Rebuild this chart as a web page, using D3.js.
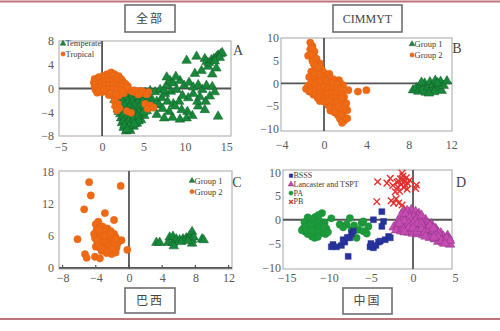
<!DOCTYPE html>
<html><head><meta charset="utf-8">
<script src="https://cdn.jsdelivr.net/npm/d3@7"></script>
<style>
html,body{margin:0;padding:0;background:#fff;}
svg{display:block;}
</style></head><body>
<svg id="chart" width="500" height="331"></svg>
<script>
// ---------- Panel A: 全部 ----------
const panelATemperate = [
[2.0,-1.0],[2.7,-0.9],[3.3,-1.1],[3.9,-0.8],[4.5,-1.0],[5.2,-0.7],[5.8,-0.4],[6.4,-0.6],[7.0,-0.2],
[1.5,-1.9],[2.1,-1.7],[2.8,-2.0],[3.4,-1.8],[4.0,-2.1],[4.6,-1.7],[5.3,-2.0],[6.0,-1.8],[6.6,-2.2],
[1.7,-2.7],[2.3,-2.6],[2.9,-2.9],[3.5,-2.5],[4.1,-2.8],[4.7,-2.6],[5.3,-2.9],[6.1,-3.3],
[1.9,-3.5],[2.5,-3.3],[3.1,-3.6],[3.7,-3.3],[4.3,-3.6],[4.9,-3.4],[5.4,-3.8],
[2.2,-4.3],[2.8,-4.1],[3.4,-4.4],[4.0,-4.1],[4.6,-4.4],[5.1,-4.6],
[2.3,-5.0],[2.9,-5.2],[3.5,-4.9],[4.1,-5.1],[4.7,-5.3],
[2.4,-5.8],[3.0,-6.0],[3.6,-5.7],[4.2,-5.9],
[2.6,-6.6],[3.2,-6.7],[3.8,-6.4],[2.9,-7.2],[3.4,-7.1],
[2.4,-1.3],[3.0,-1.4],[3.6,-1.5],[4.2,-1.4],[4.8,-1.3],[5.5,-1.3],[1.9,-2.3],[2.5,-2.2],[3.1,-2.3],[3.7,-2.2],
[4.3,-2.4],[4.9,-2.2],[5.6,-2.5],[2.1,-3.0],[2.7,-2.9],[3.3,-3.1],[3.9,-2.9],[4.5,-3.1],[5.0,-3.0],[2.0,-3.9],
[2.6,-3.8],[3.2,-4.0],[3.8,-3.8],[4.4,-4.0],[5.0,-4.0],[2.5,-4.6],[3.1,-4.7],[3.7,-4.6],[4.3,-4.7],[2.6,-5.4],
[3.2,-5.5],[3.8,-5.3],[4.4,-5.5],[2.7,-6.2],[3.3,-6.3],[3.9,-6.0],[3.0,-6.9],
[7.2,-1.6],[7.9,-2.2],[8.6,-2.6],[9.3,-2.2],[7.6,-0.9],[6.9,-2.8],
[6.6,-4.4],[7.5,-5.0],[8.5,-4.9],[9.4,-5.2],[10.2,-5.0],[10.9,-4.6],[10.3,-3.9],[9.6,-3.6],[8.1,-3.9],[7.3,-3.4],[8.8,-3.0],
[11.6,-3.0],[12.4,-3.6],[11.5,-2.2],[12.5,-2.2],[13.0,-1.3],[11.8,-1.4],[11.0,-0.9],[10.4,-1.6],[9.7,-1.2],
[8.3,-0.5],[9.0,-0.2],[7.5,-0.3],[7.8,0.6],[8.2,1.3],[8.6,0.9],[9.4,1.3],[9.9,0.5],[10.5,1.0],[11.0,0.2],[11.6,0.6],[12.1,-0.2],[12.6,0.5],[13.3,0.3],[13.6,-0.6],
[7.8,1.9],[8.9,2.0],[11.2,2.5],[12.0,3.0],[12.8,3.7],[13.3,2.4],[13.8,3.4],[10.2,4.7],[11.4,5.4],[12.4,5.0],
[12.6,4.5],[12.9,4.3],[13.2,4.8],[13.5,5.0],[13.8,5.3],[14.0,5.6],[14.3,5.8],[14.5,6.0],[14.2,5.2],[13.6,4.6],[14.0,-4.7]
];
const panelATropical = [
[-0.9,1.6],[-0.4,1.9],[0.1,2.1],[0.6,2.4],[1.1,2.7],[1.5,2.4],[2.0,2.1],
[-1.0,1.0],[-0.5,1.2],[0.0,1.4],[0.5,1.6],[1.0,1.8],[1.5,1.7],[2.0,1.5],[2.5,1.2],
[-0.9,0.4],[-0.4,0.6],[0.1,0.8],[0.6,1.0],[1.1,1.1],[1.6,0.9],[2.1,0.8],[2.6,0.6],[3.1,0.4],
[-0.8,-0.2],[-0.3,0.0],[0.2,0.2],[0.7,0.3],[1.2,0.4],[1.7,0.2],[2.2,0.1],[2.7,-0.1],[3.2,-0.2],
[-0.6,-0.7],[0.0,-0.6],[0.6,-0.5],[1.1,-0.4],[1.6,-0.7],[2.1,-0.6],[2.6,-0.8],
[0.8,-1.1],[1.4,-1.3],[2.0,-1.2],
[-0.7,1.3],[-0.2,1.6],[0.3,1.8],[0.8,2.0],[1.3,2.2],[1.8,1.9],[2.3,1.6],[-0.7,0.7],[-0.2,0.9],[0.3,1.1],
[0.8,1.3],[1.3,1.4],[1.8,1.2],[2.3,1.0],[2.8,0.8],[-0.6,0.1],[-0.1,0.3],[0.4,0.5],[0.9,0.6],[1.4,0.7],
[1.9,0.5],[2.4,0.3],[2.9,0.2],[-0.4,-0.4],[0.3,-0.2],[0.9,-0.1],[1.4,-0.1],[1.9,-0.3],[2.4,-0.4],[1.1,-0.8],[1.7,-1.0],
[3.6,-0.5],[4.1,-0.7],[4.6,-0.4],[5.1,-0.8],[5.6,-0.6],[4.4,-1.0],[3.9,-0.3],[4.9,-0.5],[5.4,-1.0],
[1.5,-2.1],[1.9,-2.6],[1.6,-3.0],[2.1,-3.3],[1.8,-3.7],
[3.0,-3.8],[3.5,-4.1],
[5.2,-2.6],[5.8,-2.9],[5.5,-3.4],[6.2,-3.2]
];
const ticksAX = [-5, 0, 5, 10, 15];
const ticksAY = [-8, -4, 0, 4, 8];

// ---------- Panel B: CIMMYT ----------
const panelBGroup1 = [
[8.4,-1.5],[8.7,-1.0],[8.9,-1.8],[9.1,-0.4],[9.3,-1.2],[9.5,0.0],[9.6,-2.0],[9.8,-0.8],[10.0,0.3],[10.1,-1.5],
[10.3,-0.3],[10.5,0.6],[10.6,-1.1],[10.8,-0.2],[11.0,0.4],[11.1,-1.6],[10.4,-1.9],[9.9,-2.2],[11.3,-0.5],[11.6,0.5],[9.2,0.2],[10.7,0.1]
];
const panelBGroup2 = [
[-1.3,9.0],[-1.1,8.2],[-1.3,7.5],[-0.9,7.0],[-1.5,6.1],[-1.0,6.0],[-0.7,5.4],[-1.1,5.0],[-0.6,4.5],[-0.4,4.4],[-0.9,4.0],[-0.4,3.8],
[-0.7,3.2],[-0.2,3.0],[-1.2,2.6],[-0.5,2.6],[-0.4,2.2],[0.0,2.3],[0.5,2.1],[0.3,1.8],[-0.1,1.5],[-1.4,1.4],[0.6,1.2],[0.9,0.9],[1.4,0.7],
[-1.7,-1.2],[-1.5,-0.5],[-1.2,0.2],[-0.8,0.8],[-0.4,1.0],[0.0,0.9],[0.5,0.6],[1.0,0.4],[1.5,0.2],[1.8,-0.4],
[-1.4,-1.8],[-1.0,-1.2],[-0.6,-0.6],[-0.2,-0.1],[0.2,-0.3],[0.6,-0.8],[1.0,-0.4],[1.4,-0.9],
[-1.0,-2.5],[-0.6,-1.9],[-0.2,-1.4],[0.2,-1.8],[0.6,-1.5],[1.0,-1.9],[1.4,-1.6],[1.7,-2.2],
[-0.6,-3.2],[-0.2,-2.6],[0.2,-2.9],[0.6,-2.5],[1.0,-3.0],[1.4,-2.7],[1.9,-3.0],
[-0.4,-3.9],[0.2,-4.2],[0.6,-3.6],[1.0,-4.0],[1.4,-3.6],[1.8,-3.9],
[0.4,-4.8],[0.8,-5.2],[1.2,-4.8],[1.6,-5.4],[0.6,-6.0],[1.1,-5.8],[1.4,-6.3],[1.8,-6.6],[1.3,-7.0],[1.7,-7.3],[1.5,-7.8],[1.9,-8.2],[1.7,-8.7],
[-1.2,-0.9],[-0.8,-0.2],[-0.4,0.4],[0.2,0.5],[0.8,0.1],[1.2,-0.2],[-1.2,-1.6],[-0.8,-1.5],[-0.4,-1.0],[0.0,-0.8],
[0.4,-1.1],[0.8,-1.3],[1.2,-1.1],[1.6,-1.3],[-0.8,-2.4],[-0.4,-2.1],[0.0,-2.3],[0.4,-2.2],[0.8,-2.1],[1.2,-2.3],
[1.6,-2.6],[-0.4,-3.0],[0.0,-3.4],[0.4,-3.3],[0.8,-3.2],[1.2,-3.5],[1.6,-3.2],[0.0,-4.0],[0.4,-3.9],[0.8,-4.4],
[1.2,-4.2],[1.6,-4.5],[0.6,-5.3],[1.0,-5.5],[1.4,-5.1],[1.8,-5.8],[1.0,-6.4],[1.6,-6.9],[-0.9,1.6],[-0.5,1.9],
[-0.9,2.2],[-0.6,3.5],[-1.0,4.5],[-0.8,5.5],[-1.2,6.5],[-1.1,7.8],
[2.2,-5.9],[2.0,-5.0],[2.3,-1.5],[3.2,-1.8],[4.0,-1.5],[2.1,-4.4],[2.2,-7.7]
];
const ticksBX = [-4, 0, 4, 8, 12];
const ticksBY = [-10, -5, 0, 5, 10];

// ---------- Panel C: 巴西 ----------
const panelCGroup1 = [
[3.3,4.75],[3.7,4.75],[4.7,4.75],[5.3,4.75],[4.9,5.75],[5.3,5.9],[5.7,5.4],[5.4,4.1],[6.1,5.25],[6.5,5.4],
[6.9,5.6],[7.3,6.0],[7.6,6.8],[7.6,5.25],[7.8,5.75],[7.6,4.6],[8.8,5.4],[9.0,5.25],[6.3,4.9],[7.1,5.1]
];
const panelCGroup2 = [
[-4.8,16.1],[-1.0,15.4],[-4.6,13.6],[-5.4,11.0],[-2.9,10.3],[-1.8,9.0],[-3.7,8.7],[-6.2,5.4],[-0.2,3.4],
[-5.3,2.6],[-5.1,1.9],[-4.1,2.1],[-3.5,1.8],[-4.0,4.0],[-0.9,5.2],
[-4.0,8.2],[-3.5,7.6],[-3.9,7.2],[-3.2,7.8],[-2.6,7.4],[-2.2,6.9],[-1.8,6.4],[-4.2,6.4],[-3.6,6.6],[-3.0,6.8],[-2.4,6.2],
[-1.6,5.8],[-1.2,5.0],[-4.1,5.6],[-3.5,5.8],[-2.9,5.6],[-2.3,5.4],[-1.7,5.0],[-1.4,4.5],[-3.8,4.8],[-3.2,4.9],[-2.6,4.6],
[-2.0,4.2],[-1.5,3.8],[-3.6,3.9],[-3.0,4.0],[-2.4,3.6],[-1.9,3.2],[-3.3,3.2],[-2.7,2.8],[-2.1,2.6],[-1.6,2.9],[-2.8,6.1],
[-2.0,5.8],[-3.4,5.2],[-2.5,5.0],[-2.8,4.2],
[-3.4,6.2],[-2.6,5.6],[-2.2,4.8],[-3.0,5.2],[-3.6,4.4],[-2.4,4.2],[-1.8,4.6],[-3.2,3.6],[-2.6,3.2],[-2.0,3.6],
[-1.6,5.4],[-3.8,5.2],[-2.2,6.4],[-3.0,6.0],[-3.6,7.2]
];
const ticksCX = [-8, -4, 0, 4, 8, 12];
const ticksCY = [0, 6, 12, 18];

// ---------- Panel D: 中国 ----------
const panelDBSSS = [
[-9.5,-5.2],[-9.1,-5.7],[-8.5,-5.4],[-8.1,-4.7],[-7.5,-3.8],[-7.3,-2.9],[-7.1,-2.4],[-7.7,-7.7],[-5.1,-5.7],[-4.7,-5.9],
[-4.1,-4.7],[-3.9,-4.5],[-3.3,-4.2],[-2.9,-3.5],[-3.7,1.7],[-4.7,0.0],[-3.5,-0.35],[-3.7,-1.4],[-2.7,-3.8],[-9.7,-5.7],
[-8.3,-4.2],[-7.8,-3.7],[-5.0,-5.0],[-4.4,-5.4]
];
const panelDLancaster = [
[-1.1,2.0],[-0.6,1.6],[-0.2,2.1],[0.3,1.7],[0.7,1.3],[-0.7,1.9],
[-1.4,1.0],[-0.9,0.7],[-0.4,1.0],[0.1,0.6],[0.6,0.8],[1.1,0.4],[1.5,0.0],
[-1.8,-0.4],[-1.3,-0.2],[-0.8,-0.5],[-0.3,-0.1],[0.2,-0.4],[0.7,-0.2],[1.2,-0.6],[1.7,-0.8],[2.2,-0.9],
[-2.3,-1.6],[-1.8,-1.2],[-1.3,-1.5],[-0.8,-1.1],[-0.3,-1.4],[0.2,-1.2],[0.7,-1.6],[1.2,-1.3],[1.7,-1.7],[2.2,-1.5],[2.7,-1.9],
[-2.0,-2.2],[-1.4,-2.4],[-0.8,-2.0],[-0.2,-2.3],[0.4,-2.1],[1.0,-2.5],[1.6,-2.2],[2.2,-2.6],[2.8,-2.4],[3.3,-2.8],
[-0.5,-2.7],[0.0,-2.9],[0.6,-3.0],[1.2,-3.2],[1.8,-3.0],[2.4,-3.4],[3.0,-3.2],[3.6,-3.5],[4.1,-3.3],
[2.0,-3.8],[2.6,-4.1],[3.2,-3.9],[3.8,-4.3],[4.3,-4.0],
[3.0,-4.6],[3.6,-4.9],[4.2,-4.7],[4.4,-5.2],
[-0.9,1.2],[-0.4,0.4],[0.4,0.1],[0.9,-0.5],[-1.0,-0.3],[-0.5,-0.8],[0.0,-0.8],[0.5,-1.0],[1.0,-0.9],[-1.6,-0.8],
[-1.1,-2.0],[-0.5,-1.7],[0.0,-1.8],[0.5,-2.5],[1.0,-1.9],[1.4,-2.7],[2.0,-2.1],[2.5,-2.3],[3.0,-2.7],[-1.0,-2.6],
[2.0,-1.2],[2.4,-1.8],[3.0,-3.7],[3.4,-4.4],[4.0,-3.8],[4.4,-4.4],[1.5,-3.5],[2.5,-3.7],[3.8,-5.0],[1.0,0.9]
];
const panelDPA = [
[-13.0,-1.8],[-12.8,-2.5],[-12.6,-1.2],[-12.5,-3.0],[-12.3,-2.0],[-12.1,-0.7],[-12.0,-3.5],[-11.9,-1.5],[-11.8,-2.6],[-11.6,0.6],
[-11.5,-1.0],[-11.4,-3.2],[-11.3,-2.0],[-11.1,-0.3],[-11.0,-2.8],[-10.9,-1.4],[-10.8,1.4],[-10.7,-2.2],[-10.5,-0.6],[-10.4,-3.0],
[-10.3,-1.8],[-10.1,-2.6],[-9.7,0.3],[-12.4,-0.2],[-12.9,-0.5],[-13.2,-2.2],[-11.7,-3.8],[-11.2,1.0],[-12.2,-2.8],[-11.6,-1.8],
[-12.7,-1.5],[-12.2,-1.2],[-11.7,-2.2],[-11.2,-1.5],[-10.7,-1.0],[-10.9,-2.6],[-11.4,-2.5],[-12.6,-2.2],[-12.0,-2.4],[-10.6,-1.5],
[-11.9,0.2],[-12.5,0.5],[-11.3,-3.6],
[-8.7,-1.0],[-7.9,-1.0],[-7.3,-2.1],[-6.5,-2.1],[-5.9,-2.4],[-6.1,-0.7],[-5.3,-1.4],[-7.5,0.35],[-6.7,-3.8],[-5.9,-0.35],
[-8.3,-1.6],[-7.0,-1.2],[-5.5,-2.9]
];
const panelDPB = [
[-4.2,8.0],[-4.3,3.8],[-3.1,7.7],[-2.7,8.7],[-2.3,3.5],[-1.7,3.5],[-1.3,3.1],[-2.1,5.9],[-1.6,6.0],[-1.2,9.2],
[-1.5,8.6],[-1.9,7.9],[-1.4,7.4],[-1.0,8.0],[-0.8,8.8],[-0.6,7.6],[-1.1,6.8],[-1.8,6.9],[-0.7,6.4],[-2.4,7.2],
[0.4,7.3],[0.3,6.6],[-0.4,8.3],[-1.3,9.8],[-2.0,4.4],[-2.6,4.0],[-1.2,8.5],[-1.7,8.1],[-0.9,7.3]
];
const ticksDX = [-15, -10, -5, 0, 5];
const ticksDY = [-10, -5, 0, 5, 10];

// ---------- styling ----------
const ORANGE = "#f06a14", GREEN = "#18883a", BLUE = "#27339c", PINK = "#c64cb4", RED = "#e4302c", PAGREEN = "#1d9a3c";
const serif = "'Liberation Serif','DejaVu Serif',serif";
const cjk = "'Noto Sans CJK SC','Noto Sans CJK JP',sans-serif";

const svg = d3.select("#chart");
svg.append("rect").attr("width",500).attr("height",331).attr("fill","#fff");
svg.append("line").attr("x1",0).attr("x2",500).attr("y1",1.5).attr("y2",1.5).attr("stroke","#b9757a").attr("stroke-width",2);
svg.append("line").attr("x1",0).attr("x2",500).attr("y1",319).attr("y2",319).attr("stroke","#b9757a").attr("stroke-width",2);

const shapes = {
  tri: {type: d3.symbolTriangle, size: 40},
  circ: {type: d3.symbolCircle, size: 42},
  sq: {type: d3.symbolSquare, size: 36},
  x: {type: d3.symbolX, size: 30}
};

function marker(sel, shape, color, scale) {
  const s = shapes[shape];
  const p = sel.append("path").attr("d", d3.symbol().type(s.type).size(s.size * (scale||1)));
  if (shape === "x") p.attr("fill","none").attr("stroke",color).attr("stroke-width",1.4);
  else if (shape === "tri") p.attr("fill",color).attr("stroke",d3.color(color).darker(1)).attr("stroke-width",0.5);
  else p.attr("fill",color).attr("stroke",d3.color(color).darker(0.3)).attr("stroke-width",0.4);
  return p;
}

function fmt(d){ return d < 0 ? "\u2212" + Math.abs(d) : String(d); }

function drawPanel(cfg) {
  const x = d3.scaleLinear().domain(cfg.xDomain).range([cfg.left, cfg.right]);
  const y = d3.scaleLinear().domain(cfg.yDomain).range([cfg.bottom, cfg.top]);
  const g = svg.append("g");
  g.append("rect").attr("x",cfg.left).attr("y",cfg.top)
    .attr("width",cfg.right-cfg.left).attr("height",cfg.bottom-cfg.top)
    .attr("fill","#fff").attr("stroke","#b4b4b4").attr("stroke-width",1.2);

  const ax = g.append("g").attr("transform",`translate(0,${cfg.bottom})`)
    .call(d3.axisBottom(x).tickValues(cfg.xTicks).tickSize(0).tickPadding(cfg.xPad).tickFormat(fmt));
  const ay = g.append("g").attr("transform",`translate(${cfg.left},0)`)
    .call(d3.axisLeft(y).tickValues(cfg.yTicks).tickSize(0).tickPadding(cfg.yPad).tickFormat(fmt));
  [ax, ay].forEach(a => {
    a.select(".domain").remove();
    a.selectAll("text").attr("font-family",serif).attr("font-size",12).attr("fill","#5a5a5a");
  });

  g.append("line").attr("x1",cfg.left).attr("x2",cfg.right).attr("y1",y(0)).attr("y2",y(0))
    .attr("stroke","#555").attr("stroke-width",1.8);
  g.append("line").attr("x1",x(0)).attr("x2",x(0)).attr("y1",cfg.top).attr("y2",cfg.bottom)
    .attr("stroke","#555").attr("stroke-width",1.8);
  if (cfg.zeroTicks) {
    g.selectAll(".zt").data(cfg.xTicks.filter(t => x(t) > cfg.left + 2 && x(t) < cfg.right - 2)).enter()
      .append("line").attr("x1",d=>x(d)).attr("x2",d=>x(d)).attr("y1",y(0)).attr("y2",y(0)-3)
      .attr("stroke","#555").attr("stroke-width",1.2);
  }

  cfg.series.forEach(s => {
    const pg = g.append("g");
    s.data.forEach(d => {
      marker(pg, s.shape, s.color).attr("transform",`translate(${x(d[0])},${y(d[1])})`);
    });
  });

  cfg.legend.items.forEach((it, i) => {
    const ly = cfg.legend.y + i * cfg.legend.dy;
    marker(g, it.shape, it.color, 0.35).attr("transform",`translate(${cfg.legend.x},${ly})`);
    g.append("text").attr("x",cfg.legend.x + 2.5).attr("y",ly).attr("dy","0.33em")
      .attr("font-family",serif).attr("font-size",cfg.legend.fs).attr("fill","#3a3a3a").text(it.name);
  });

  g.append("text").attr("x",cfg.letter[0]).attr("y",cfg.letter[1]).attr("dy","0.35em")
    .attr("text-anchor","middle").attr("font-family",serif).attr("font-size",14).attr("fill","#444").text(cfg.letter[2]);

  const t = cfg.title;
  g.append("rect").attr("x",t.x).attr("y",t.y).attr("width",t.w).attr("height",t.h)
    .attr("fill","#fff").attr("stroke","#6e6e6e").attr("stroke-width",1.6);
  g.append("text").attr("x",t.x + t.w/2).attr("y",t.y + t.h/2).attr("dy","0.35em").attr("text-anchor","middle")
    .attr("font-family", t.cjk ? cjk : serif).attr("font-size", t.fs).attr("fill","#444")
    .attr("letter-spacing", t.ls || 0).text(t.text);
}

drawPanel({
  left:59, right:231, top:41, bottom:136,
  xDomain:[-5.2,15.56], yDomain:[-8,8], xTicks:ticksAX, yTicks:ticksAY, xPad:6, yPad:5,
  series:[{data:panelATemperate, shape:"tri", color:GREEN},{data:panelATropical, shape:"circ", color:ORANGE}],
  legend:{x:63, y:43.5, dy:10.5, fs:8.5, items:[{name:"Temperate",shape:"tri",color:GREEN},{name:"Tropical",shape:"circ",color:ORANGE}]},
  letter:[238,50,"A"],
  title:{x:125,y:5,w:50,h:27,text:"全部",cjk:true,fs:12,ls:2}
});
drawPanel({
  left:281, right:452, top:38, bottom:131,
  xDomain:[-4.06,12.08], yDomain:[-10.5,10], xTicks:ticksBX, yTicks:ticksBY, xPad:9, yPad:2,
  series:[{data:panelBGroup1, shape:"tri", color:GREEN},{data:panelBGroup2, shape:"circ", color:ORANGE}],
  legend:{x:412, y:44, dy:11, fs:8.5, items:[{name:"Group 1",shape:"tri",color:GREEN},{name:"Group 2",shape:"circ",color:ORANGE}]},
  letter:[457,48,"B"],
  title:{x:333,y:5,w:69,h:27,text:"CIMMYT",cjk:false,fs:12}
});
drawPanel({
  left:59, right:232, top:171, bottom:269,
  xDomain:[-8.43,12.41], yDomain:[-0.2,18.2], xTicks:ticksCX, yTicks:ticksCY, xPad:4, yPad:5, zeroTicks:true,
  series:[{data:panelCGroup1, shape:"tri", color:GREEN},{data:panelCGroup2, shape:"circ", color:ORANGE}],
  legend:{x:192, y:180.7, dy:11, fs:8.5, items:[{name:"Group 1",shape:"tri",color:GREEN},{name:"Group 2",shape:"circ",color:ORANGE}]},
  letter:[237,182,"C"],
  title:{x:125,y:288,w:50,h:25,text:"巴西",cjk:true,fs:12,ls:2}
});
drawPanel({
  left:283, right:452, top:170, bottom:269,
  xDomain:[-15.44,4.63], yDomain:[-10.36,10.46], xTicks:ticksDX, yTicks:ticksDY, xPad:4, yPad:2,
  series:[{data:panelDLancaster, shape:"tri", color:PINK},{data:panelDPA, shape:"circ", color:PAGREEN},
          {data:panelDBSSS, shape:"sq", color:BLUE},{data:panelDPB, shape:"x", color:RED}],
  legend:{x:291, y:175.7, dy:8.7, fs:8, items:[{name:"BSSS",shape:"sq",color:BLUE},{name:"Lancaster and TSPT",shape:"tri",color:PINK},
          {name:"PA",shape:"circ",color:PAGREEN},{name:"PB",shape:"x",color:RED}]},
  letter:[461,182,"D"],
  title:{x:343,y:288,w:49,h:26,text:"中国",cjk:true,fs:12,ls:2}
});
</script>
</body></html>
